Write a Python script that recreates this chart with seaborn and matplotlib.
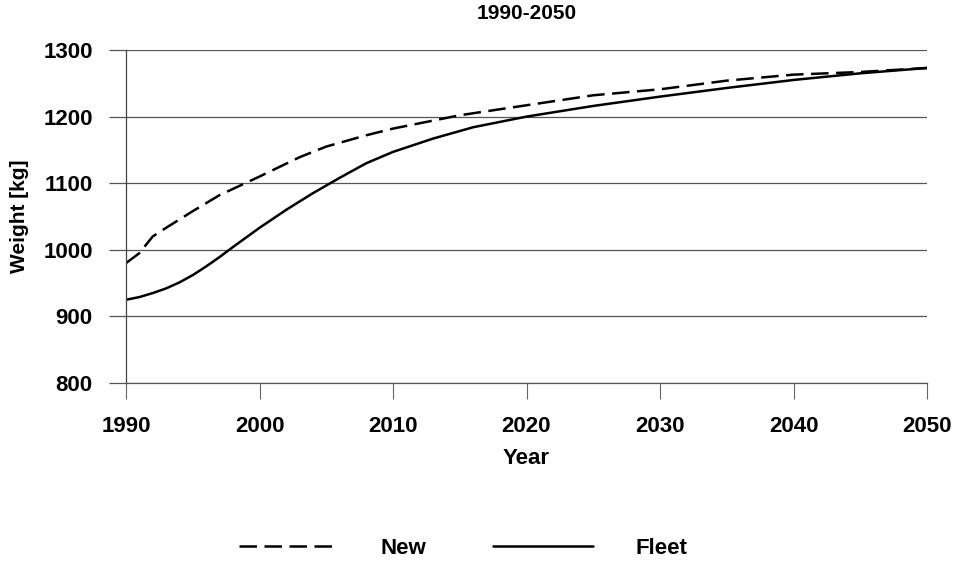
import matplotlib
matplotlib.use("Agg")
import matplotlib.pyplot as plt
import seaborn as sns
import pandas as pd

years_new = [1990, 1991, 1992, 1993, 1995, 1997, 2000, 2003, 2005, 2008, 2010,
             2015, 2020, 2025, 2030, 2035, 2040, 2045, 2050]
weight_new = [980, 995, 1020, 1033, 1058, 1082, 1110, 1139, 1155, 1172, 1182,
              1202, 1217, 1232, 1241, 1254, 1263, 1267, 1273]

years_fleet = [1990, 1991, 1992, 1993, 1994, 1995, 1996, 1997, 1998, 2000, 2002,
               2004, 2006, 2008, 2010, 2013, 2016, 2020, 2025, 2030, 2035, 2040,
               2045, 2050]
weight_fleet = [925, 929, 935, 942, 951, 962, 975, 989, 1004, 1033, 1060,
                1085, 1108, 1130, 1147, 1167, 1184, 1200, 1216, 1230, 1243, 1255,
                1265, 1273]

x_ticks = [1990, 2000, 2010, 2020, 2030, 2040, 2050]
y_ticks = [800, 900, 1000, 1100, 1200, 1300]

sns.set_theme(style="white")
plt.rcParams['font.family'] = ['Liberation Sans', 'DejaVu Sans']
plt.rcParams['font.weight'] = 'bold'
plt.rcParams['text.color'] = 'black'
plt.rcParams['axes.labelcolor'] = 'black'

df_new = pd.DataFrame({"Year": years_new, "Weight": weight_new})
df_fleet = pd.DataFrame({"Year": years_fleet, "Weight": weight_fleet})

fig = plt.figure(figsize=(9.63, 5.63), dpi=100)
ax = fig.add_axes([126/963, 1-383/563, (927-126)/963, (383-50)/563])

sns.lineplot(data=df_new, x="Year", y="Weight", ax=ax, color="black",
             linewidth=1.8, label="New")
sns.lineplot(data=df_fleet, x="Year", y="Weight", ax=ax, color="black",
             linewidth=1.8, label="Fleet")
ax.lines[0].set_dashes((7, 3))

ax.set_xlim(1990, 2050)
ax.set_ylim(800, 1300)
ax.set_xticks(x_ticks)
ax.set_yticks(y_ticks)
ax.yaxis.grid(True, color="#555555", linewidth=0.9)
ax.xaxis.grid(False)
for s in ["top", "right"]:
    ax.spines[s].set_visible(False)
ax.spines["bottom"].set_color("#555555")
ax.spines["bottom"].set_linewidth(0.9)
ax.spines["left"].set_color("#444444")
ax.spines["left"].set_linewidth(0.9)
ax.tick_params(axis="y", direction="out", length=12, width=0.9, color="#555555",
               pad=12, labelsize=16, labelcolor="black", left=True)
ax.tick_params(axis="x", direction="out", length=11.5, width=0.8, color="#666666",
               pad=12, labelsize=16, labelcolor="black", bottom=True)
for lab in ax.get_xticklabels() + ax.get_yticklabels():
    lab.set_fontweight("bold")

ax.set_xlabel("Year", fontsize=16, fontweight="bold", labelpad=8)
ax.set_ylabel("Weight [kg]", fontsize=15, fontweight="bold", labelpad=10)
ax.set_title("1990-2050", fontsize=15, fontweight="bold", pad=22)

leg = ax.get_legend()
handles, labels = ax.get_legend_handles_labels()
leg.remove()
fig.legend(handles, labels, loc="center", bbox_to_anchor=(463/963, 1-548/563),
           ncol=2, frameon=False, prop={"size": 16, "weight": "bold"},
           handlelength=4.5, handletextpad=1.9, columnspacing=3.0)

fig.savefig("out.png", dpi=100, facecolor="white")
